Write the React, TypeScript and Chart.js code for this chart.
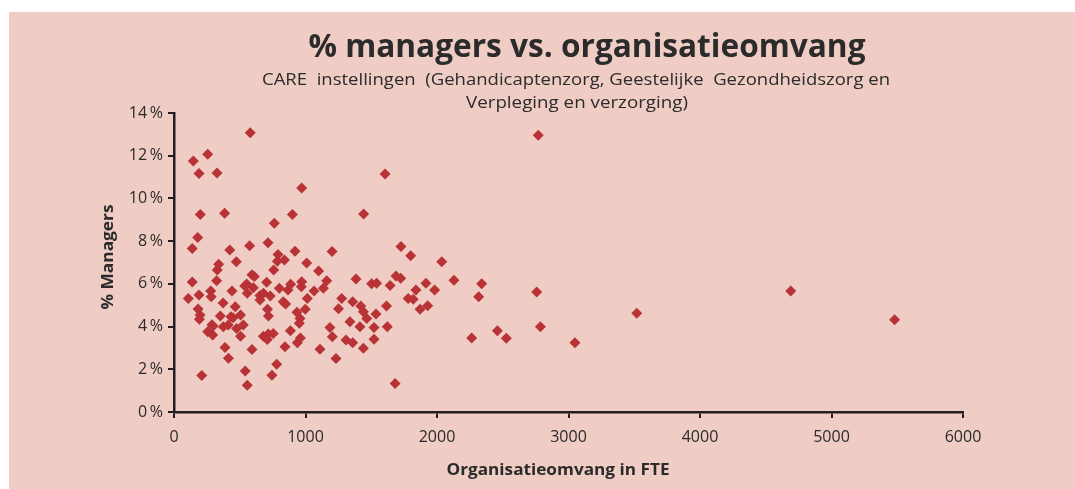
import React, { useEffect, useRef } from "react";
import { Chart, registerables } from "chart.js";

Chart.register(...registerables);

const titleText = "% managers vs. organisatieomvang";
const subtitleLines = [
  "CARE  instellingen  (Gehandicaptenzorg, Geestelijke  Gezondheidszorg en",
  "Verpleging en verzorging)",
];
const xAxisTitle = "Organisatieomvang in FTE";
const yAxisTitle = "% Managers";

const xTicks = [0, 1000, 2000, 3000, 4000, 5000, 6000];
const yTicks = [0, 2, 4, 6, 8, 10, 12, 14];

// Organisatieomvang (FTE)
const fte = [
  3519, 4690, 5480, 2770, 2036, 2129, 2340, 2317, 2758, 2264, 2459, 2527, 2786, 3049,
  1605, 1442, 971, 1202, 1726, 1800, 1009, 1100,
  580, 147, 256, 190, 327, 200, 385, 900, 763, 180, 139, 424, 575, 715, 920, 474, 340,
  791, 786, 840, 329, 758,
  139, 190, 109, 279, 283, 324, 593, 441, 373, 538, 557, 603, 654, 705, 732, 801, 867,
  887, 971, 968, 1065, 1014, 831, 849, 998, 935, 958, 953, 183, 198, 193, 289, 256, 294,
  352, 433, 466, 506, 375, 412, 476, 527, 506, 388, 414, 593, 542, 557, 211, 679, 717,
  755, 709, 711, 781, 745, 885, 844, 938, 961, 1110, 611, 297, 449, 553, 654, 680, 718,
  1161, 1136, 1384, 1275, 1359, 1251, 1420, 1440, 1466, 1536, 1521, 1338, 1414, 1622,
  1186, 1204, 1308, 1359, 1521, 1440, 1232, 1681, 1503, 1541, 1643, 1688, 1724, 1616,
  1840, 1781, 1819, 1916, 1982, 1871, 1929,
];

// % managers
const pctManagers = [
  4.62, 5.67, 4.32, 12.96, 7.04, 6.17, 6.0, 5.4, 5.62, 3.47, 3.8, 3.45, 3.99, 3.24,
  11.14, 9.27, 10.49, 7.51, 7.75, 7.32, 6.98, 6.6,
  13.08, 11.75, 12.07, 11.17, 11.19, 9.25, 9.31, 9.25, 8.84, 8.17, 7.65, 7.58, 7.79, 7.92,
  7.53, 7.03, 6.92, 7.37, 7.06, 7.12, 6.65, 6.65,
  6.09, 5.48, 5.32, 5.67, 5.4, 6.14, 6.43, 5.67, 5.1, 5.9, 5.56, 5.82, 5.45, 6.08, 5.43,
  5.79, 5.71, 5.98, 6.1, 5.87, 5.67, 5.32, 5.16, 5.06, 4.81, 4.67, 4.38, 4.15, 4.82, 4.54,
  4.34, 4.08, 3.76, 3.6, 4.49, 4.46, 4.93, 4.54, 3.99, 4.07, 3.91, 4.07, 3.55, 3.02, 2.52,
  2.93, 1.92, 1.25, 1.71, 3.55, 3.65, 3.68, 3.4, 4.81, 2.24, 1.72, 3.8, 3.05, 3.24, 3.47,
  2.94, 6.35, 4.02, 4.41, 5.99, 5.24, 5.56, 4.49,
  6.14, 5.79, 6.23, 5.32, 5.16, 4.84, 4.96, 4.69, 4.38, 4.59, 3.96, 4.23, 3.99, 3.99,
  3.96, 3.52, 3.37, 3.24, 3.41, 2.98, 2.51, 1.33, 6.0, 6.03, 5.92, 6.37, 6.26, 4.96,
  5.71, 5.32, 5.28, 6.03, 5.71, 4.81, 4.98,
];

const BG = "#EFCCC4";
const MARKER = "#B83236";
const AXIS = "#231F20";
const TEXT = "#2b2b2b";

function drawFit(
  ctx: CanvasRenderingContext2D,
  text: string,
  cx: number,
  baseline: number,
  width: number,
  font: string
) {
  ctx.save();
  ctx.font = font;
  const w = ctx.measureText(text).width;
  const s = width / w;
  ctx.translate(cx, baseline);
  ctx.scale(s, 1);
  ctx.textAlign = "center";
  ctx.textBaseline = "alphabetic";
  ctx.fillStyle = TEXT;
  ctx.fillText(text, 0, 0);
  ctx.restore();
}

const textPlugin = {
  id: "textPlugin",
  afterDraw(chart: any) {
    const ctx = chart.ctx as CanvasRenderingContext2D;
    drawFit(ctx, titleText, 578, 45, 557, "bold 32px 'Open Sans'");
    drawFit(ctx, subtitleLines[0], 567, 73, 628, "17px 'Open Sans'");
    drawFit(ctx, subtitleLines[1], 568, 96, 222, "17px 'Open Sans'");
    drawFit(ctx, xAxisTitle, 549, 463, 223, "bold 16px 'Open Sans'");
    ctx.save();
    ctx.translate(98, 245);
    ctx.rotate(-Math.PI / 2);
    drawFit(ctx, yAxisTitle, 0, 6, 105, "bold 16px 'Open Sans'");
    ctx.restore();
  },
};

export default function App() {
  const ref = useRef<HTMLCanvasElement | null>(null);

  useEffect(() => {
    if (!ref.current) return;
    const points = fte.map((x, i) => ({ x, y: pctManagers[i] }));
    const chart = new Chart(ref.current, {
      type: "scatter",
      data: {
        datasets: [
          {
            label: "% managers",
            data: points,
            pointStyle: "rectRot",
            pointRadius: 5.5,
            pointBackgroundColor: MARKER,
            pointBorderColor: MARKER,
            pointBorderWidth: 0,
          },
        ],
      },
      options: {
        animation: false,
        responsive: false,
        maintainAspectRatio: false,
        layout: { padding: { top: 101, right: 112, left: 0, bottom: 0 } },
        plugins: {
          legend: { display: false },
          title: { display: false },
          tooltip: { enabled: false },
        },
        scales: {
          x: {
            type: "linear",
            min: xTicks[0],
            max: xTicks[xTicks.length - 1],
            afterFit: (s: any) => {
              s.height = 77;
            },
            afterBuildTicks: (s: any) => {
              s.ticks = xTicks.map((v) => ({ value: v }));
            },
            ticks: {
              color: TEXT,
              font: { family: "'Open Sans'", size: 16 },
              padding: 10,
              maxRotation: 0,
              callback: (v: any) => String(v),
            },
            grid: {
              display: true,
              drawOnChartArea: false,
              drawTicks: true,
              tickLength: 6,
              color: AXIS,
              lineWidth: 2,
            },
            border: { display: true, color: AXIS, width: 2.5 },
          },
          y: {
            type: "linear",
            min: yTicks[0],
            max: yTicks[yTicks.length - 1],
            afterFit: (s: any) => {
              s.width = 165;
            },
            afterBuildTicks: (s: any) => {
              s.ticks = yTicks.map((v) => ({ value: v }));
            },
            ticks: {
              color: TEXT,
              font: { family: "'Open Sans'", size: 16 },
              padding: 5,
              callback: (v: any) => `${v}\u2009%`,
            },
            grid: {
              display: true,
              drawOnChartArea: false,
              drawTicks: true,
              tickLength: 6,
              color: AXIS,
              lineWidth: 2,
            },
            border: { display: true, color: AXIS, width: 2.5 },
          },
        },
      },
      plugins: [textPlugin],
    });
    return () => chart.destroy();
  }, []);

  return (
    <div
      style={{
        position: "absolute",
        left: 9,
        top: 12,
        width: 1066,
        height: 477,
        background: BG,
      }}
    >
      <canvas ref={ref} width={1066} height={477} style={{ display: "block" }} />
    </div>
  );
}
